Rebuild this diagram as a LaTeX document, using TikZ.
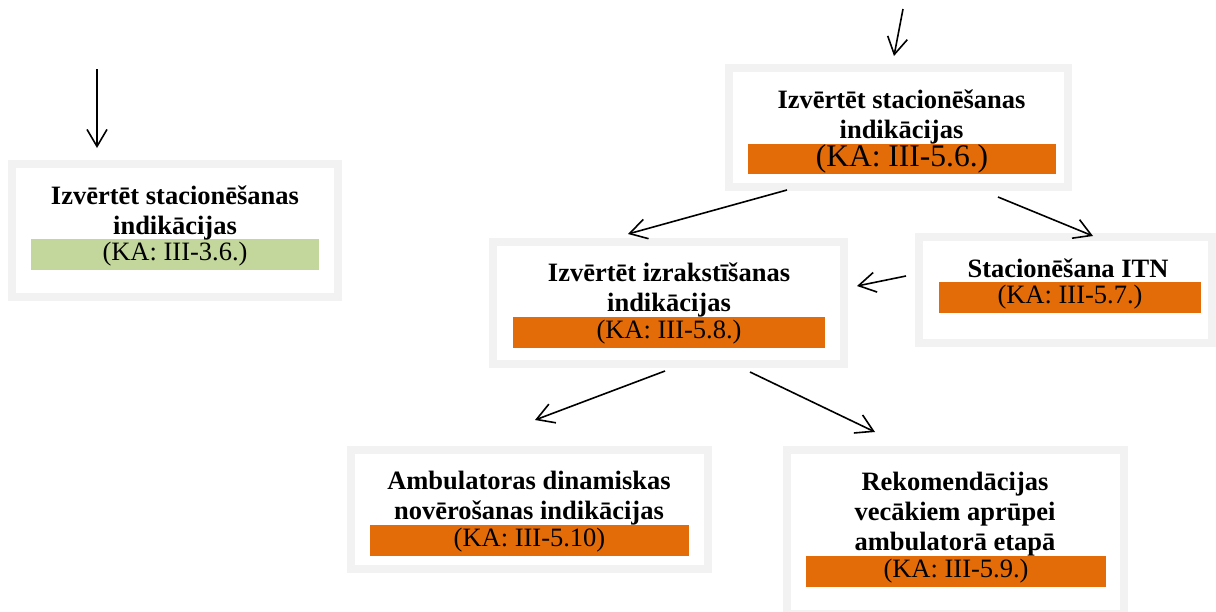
\documentclass[tikz,border=0pt]{standalone}
\usepackage{fontspec}
\setmainfont{Liberation Serif}
\usetikzlibrary{arrows.meta,calc}
\definecolor{frame}{HTML}{F2F2F2}
\definecolor{kaorange}{HTML}{E36C09}
\definecolor{kagreen}{HTML}{C3D69B}
\begin{document}
\begin{tikzpicture}[x=1pt,y=-1pt,
  card/.style={draw=frame, line width=8pt, fill=white, inner sep=0pt},
  title/.style={font=\bfseries\fontsize{26.5}{30}\selectfont, align=center, inner sep=0pt},
  bar/.style={fill=#1, inner sep=0pt, font=\fontsize{26.5}{30}\selectfont},
  arr/.style={line width=1.6pt, -{Straight Barb[length=17pt,width=20pt]}}]
\useasboundingbox (0,0) rectangle (1216,611);
\clip (0,0) rectangle (1216,611);

% framed cards
\node[card, minimum width=326pt, minimum height=133pt] (A) at (175,230.5) {};
\node[card, minimum width=339pt, minimum height=119pt] (B) at (898.5,127.5) {};
\node[card, minimum width=351pt, minimum height=122pt] (C) at (668.5,303) {};
\node[card, minimum width=293pt, minimum height=106pt] (D) at (1065.5,290) {};
\node[card, minimum width=357pt, minimum height=119pt] (E) at (529.5,509.5) {};
\node[card, minimum width=337pt, minimum height=164pt] (F) at (955.5,532) {};

% reference bars
\node[bar=kagreen, minimum width=288pt, minimum height=31pt] (barA) at (175,254.5) {(KA: III-3.6.)};
\node[bar=kaorange, minimum width=308pt, minimum height=30pt, font=\fontsize{31.5}{34}\selectfont] (barB) at (902,159) {(KA: III-5.6.)};
\node[bar=kaorange, minimum width=312pt, minimum height=31pt] (barC) at (669,332.5) {(KA: III-5.8.)};
\node[bar=kaorange, minimum width=262pt, minimum height=31pt] (barD) at (1070,297.5) {(KA: III-5.7.)};
\node[bar=kaorange, minimum width=319pt, minimum height=31pt] (barE) at (529.5,540.5) {(KA: III-5.10)};
\node[bar=kaorange, minimum width=300pt, minimum height=31pt] (barF) at (956,571.5) {(KA: III-5.9.)};

% titles
\node[title] (tA) at (175,213) {Izvērtēt stacionēšanas\\indikācijas};
\node[title] (tB) at (901.5,117) {Izvērtēt stacionēšanas\\indikācijas};
\node[title] (tC) at (669,289.5) {Izvērtēt izrakstīšanas\\indikācijas};
\node[title] (tD) at (1068,268.5) {Stacionēšana ITN};
\node[title] (tE) at (529,498) {Ambulatoras dinamiskas\\novērošanas indikācijas};
\node[title] (tF) at (955,514) {Rekomendācijas\\vecākiem aprūpei\\ambulatorā etapā};

% connectors
\coordinate (inA) at (97,69);
\coordinate (inB) at (903,9);
\draw[arr] (inA) -- ($(A.north)+(-78,-12)$);
\draw[arr] (inB) -- ($(B.north)+(-4.5,-8)$);
\draw[arr] ($(B.south)+(-111.5,-1)$) -- ($(C.north)+(-40.5,-4)$);
\draw[arr] ($(B.south)+(99.5,6)$) -- ($(D.north)+(27.5,3)$);
\draw[arr] ($(D.west)+(-9,-14)$) -- ($(C.east)+(9,-17)$);
\draw[arr] ($(C.south)+(-3.5,3)$) -- ($(E.north)+(5.5,-26)$);
\draw[arr] ($(C.south)+(81.5,4)$) -- ($(F.north)+(-80.5,-14)$);
\end{tikzpicture}
\end{document}
